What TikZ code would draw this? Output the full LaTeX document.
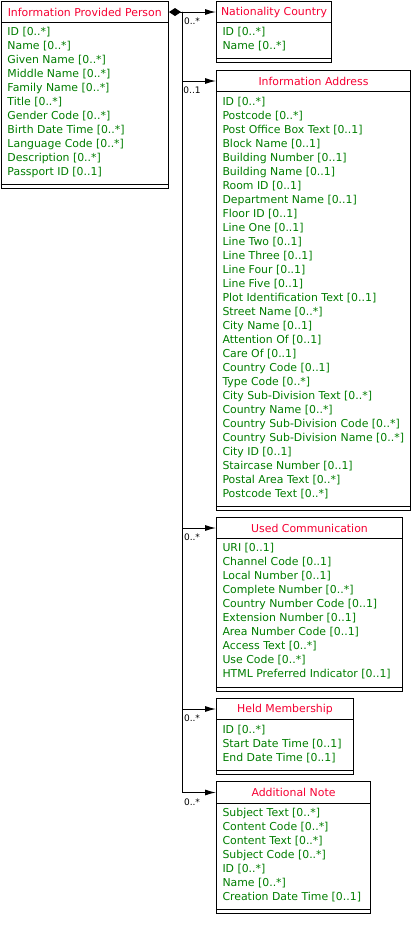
\documentclass[tikz,border=0pt]{standalone}
\usepackage{fontspec}
\setmainfont{DejaVu Sans}
\usetikzlibrary{arrows.meta}
\definecolor{hdrred}{RGB}{245,0,50}
\definecolor{attrgreen}{RGB}{0,125,0}

\begin{document}
\begin{tikzpicture}[
    x=1pt, y=-1pt,
    line width=1pt,
    >={Latex[length=11pt,width=6pt]},
    head/.style  = {rectangle, draw=black, anchor=north west, inner sep=0pt,
                    minimum height=21pt, text=hdrred,
                    font=\fontsize{10.9}{12}\selectfont},
    body/.style  = {rectangle, draw=black, anchor=north west, inner sep=0pt},
    attr/.style  = {anchor=west, inner sep=0pt, text=attrgreen,
                    text height=7.5pt, text depth=2.5pt,
                    font=\fontsize{10.9}{12}\selectfont},
    mult/.style  = {inner sep=0pt, font=\fontsize{9}{10}\selectfont},
  ]
  \useasboundingbox (0,0) rectangle (411,927);
  % information provided person
  \node[head, minimum width=167.5pt] (ipp-h) at (0.5,1) {Information Provided Person};
  \node[body, minimum width=167.5pt, minimum height=166pt] (ipp-b) at (0.5,22) {};
  \draw ([yshift=5pt]ipp-b.south west) -- ([yshift=5pt]ipp-b.south east);
  \foreach \t [count=\i] in {ID [0..*], Name [0..*], Given Name [0..*],
      Middle Name [0..*], Family Name [0..*], Title [0..*], Gender Code [0..*],
      Birth Date Time [0..*], Language Code [0..*], Description [0..*],
      Passport ID [0..1]}
    \node[attr] (ipp-a\i) at (7,{33+14*(\i-1)}) {\t};
  % nationality country
  \node[head, minimum width=115pt] (nc-h) at (216,1) {Nationality Country};
  \node[body, minimum width=115pt, minimum height=40pt] (nc-b) at (216,22) {};
  \draw ([yshift=5pt]nc-b.south west) -- ([yshift=5pt]nc-b.south east);
  \foreach \t [count=\i] in {ID [0..*], Name [0..*]}
    \node[attr] (nc-a\i) at (222,{33+14*(\i-1)}) {\t};
  % information address
  \node[head, minimum width=194pt] (ia-h) at (216,70) {Information Address};
  \node[body, minimum width=194pt, minimum height=419pt] (ia-b) at (216,91) {};
  \draw ([yshift=5pt]ia-b.south west) -- ([yshift=5pt]ia-b.south east);
  \foreach \t [count=\i] in {ID [0..*], Postcode [0..*], Post Office Box Text [0..1],
      Block Name [0..1], Building Number [0..1], Building Name [0..1],
      Room ID [0..1], Department Name [0..1], Floor ID [0..1], Line One [0..1],
      Line Two [0..1], Line Three [0..1], Line Four [0..1], Line Five [0..1],
      Plot Identification Text [0..1], Street Name [0..*], City Name [0..1],
      Attention Of [0..1], Care Of [0..1], Country Code [0..1], Type Code [0..*],
      City Sub-Division Text [0..*], Country Name [0..*],
      Country Sub-Division Code [0..*], Country Sub-Division Name [0..*],
      City ID [0..1], Staircase Number [0..1], Postal Area Text [0..*],
      Postcode Text [0..*]}
    \node[attr] (ia-a\i) at (222,{102.5+14*(\i-1)}) {\t};
  % used communication
  \node[head, minimum width=186pt] (uc-h) at (216,517) {Used Communication};
  \node[body, minimum width=186pt, minimum height=153pt] (uc-b) at (216,538) {};
  \draw ([yshift=5pt]uc-b.south west) -- ([yshift=5pt]uc-b.south east);
  \foreach \t [count=\i] in {URI [0..1], Channel Code [0..1], Local Number [0..1],
      Complete Number [0..*], Country Number Code [0..1], Extension Number [0..1],
      Area Number Code [0..1], Access Text [0..*], Use Code [0..*],
      HTML Preferred Indicator [0..1]}
    \node[attr] (uc-a\i) at (222,{549+14*(\i-1)}) {\t};
  % held membership
  \node[head, minimum width=137pt] (hm-h) at (216,698) {Held Membership};
  \node[body, minimum width=137pt, minimum height=55pt] (hm-b) at (216,719) {};
  \draw ([yshift=5pt]hm-b.south west) -- ([yshift=5pt]hm-b.south east);
  \foreach \t [count=\i] in {ID [0..*], Start Date Time [0..1], End Date Time [0..1]}
    \node[attr] (hm-a\i) at (222,{730.5+14*(\i-1)}) {\t};
  % additional note
  \node[head, minimum width=154pt, minimum height=22pt] (an-h) at (216,781) {Additional Note};
  \node[body, minimum width=154pt, minimum height=110pt] (an-b) at (216,803) {};
  \draw ([yshift=5pt]an-b.south west) -- ([yshift=5pt]an-b.south east);
  \foreach \t [count=\i] in {Subject Text [0..*], Content Code [0..*],
      Content Text [0..*], Subject Code [0..*], ID [0..*], Name [0..*],
      Creation Date Time [0..1]}
    \node[attr] (an-a\i) at (222,{814+14*(\i-1)}) {\t};
  % associations
  \coordinate (fork) at (182,11.5);
  \draw[{Diamond[length=12pt,width=8pt]}->] (ipp-h.east) -- (nc-h.west);
  \draw (fork) -- (fork |- an-h.west);
  \foreach \c in {ia,uc,hm,an}
    \draw[->] (fork) |- (\c-h.west);
  % multiplicities
  \node[mult] (m-nc) at (192,21.5) {0..*};
  \node[mult] (m-ia) at (192,90.5) {0..1};
  \node[mult] (m-uc) at (192,537.5) {0..*};
  \node[mult] (m-hm) at (192,718.5) {0..*};
  \node[mult] (m-an) at (192,802) {0..*};
\end{tikzpicture}
\end{document}
